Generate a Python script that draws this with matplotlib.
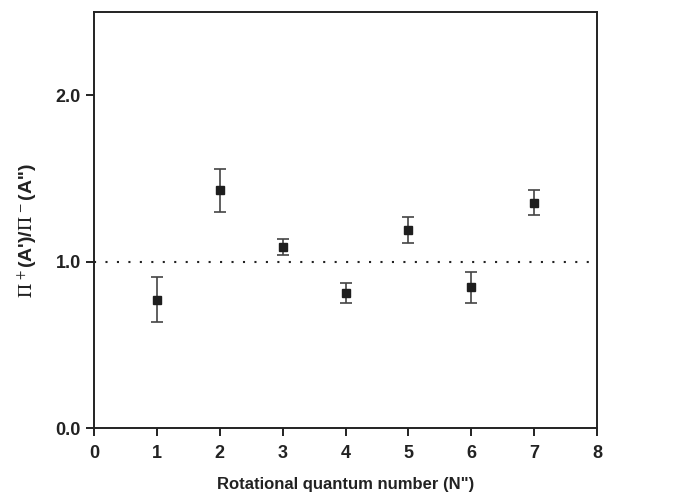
import matplotlib
matplotlib.use("Agg")
import matplotlib.pyplot as plt

N = [1, 2, 3, 4, 5, 6, 7]
ratio = [0.77, 1.43, 1.09, 0.81, 1.19, 0.85, 1.355]
err_up = [0.14, 0.125, 0.045, 0.06, 0.08, 0.09, 0.075]
err_dn = [0.13, 0.13, 0.05, 0.06, 0.08, 0.10, 0.075]
xticks = [0, 1, 2, 3, 4, 5, 6, 7, 8]
yticks = [0.0, 1.0, 2.0]
ytick_labels = ["0.0", "1.0", "2.0"]

plt.rcParams['font.family'] = ['Liberation Sans', 'DejaVu Sans']
plt.rcParams['mathtext.fontset'] = 'stix'

fig = plt.figure(figsize=(6.74, 4.94), dpi=100)
ax = fig.add_axes([0.1395, 0.1336, 0.7463, 0.8421])

ax.plot([0, 8], [1.0, 1.0], color='#222222', lw=1.5, linestyle=(0, (1, 4.5)))
ax.errorbar(N, ratio, yerr=[err_dn, err_up], fmt='s', color='#1e1e1e',
            ecolor='#444444', elinewidth=1.2, capsize=4.5, capthick=1.2,
            markersize=6.3)

ax.set_xlim(0, 8)
ax.set_ylim(0, 2.5)
ax.set_xticks(xticks)
ax.set_yticks(yticks)
ax.set_yticklabels(ytick_labels)
for s in ax.spines.values():
    s.set_linewidth(1.4)
    s.set_color('#222222')
ax.tick_params(direction='out', length=6, width=1.4, color='#222222',
               labelsize=13, pad=3.5)
ax.tick_params(axis='x', pad=6)
for lab in ax.get_xticklabels() + ax.get_yticklabels():
    lab.set_fontweight('bold')
    lab.set_color('#222222')

ax.set_xlabel('Rotational quantum number (N")', fontsize=12, fontweight='bold',
              color='#222222', labelpad=11)
ax.set_ylabel(r"$\mathrm{\Pi}^{\,+}$(A')/$\mathrm{\Pi}^{\,-}$(A'')", fontsize=14,
              fontweight='bold', color='#222222')
ax.yaxis.set_label_coords(-0.11, 0.474)

fig.savefig('out.png', dpi=100)
